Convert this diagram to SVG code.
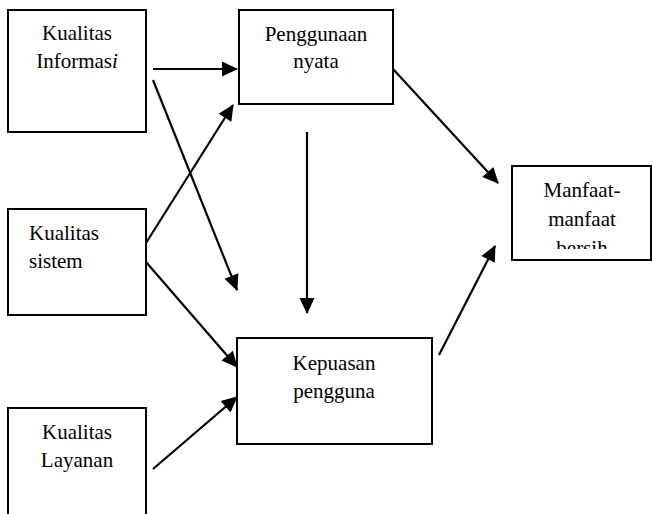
<svg xmlns="http://www.w3.org/2000/svg" width="653" height="514" viewBox="0 0 653 514">
<style>
.box{fill:#fff;stroke:#000;stroke-width:2}
text{font-family:'Times New Roman',Times,'Liberation Serif',Tinos,'Nimbus Roman','Noto Serif','DejaVu Serif',serif;font-size:21px;fill:#000}
.c{text-anchor:middle}
.ln{stroke:#000;stroke-width:2.2;fill:none;marker-end:url(#ah)}
</style>
<defs>
<marker id="ah" markerUnits="userSpaceOnUse" markerWidth="16" markerHeight="15" refX="15" refY="7.5" orient="auto" overflow="visible">
<path d="M0,0 L16,7.5 L0,15 z" fill="#000"/>
</marker>
<clipPath id="mclip"><rect x="512" y="166" width="140" height="83"/></clipPath>
</defs>
<rect width="653" height="514" fill="#fff"/>
<g id="kualitas-informasi">
<rect class="box" x="8" y="10" width="138" height="122"/>
<text class="c" x="77" y="40">Kualitas</text>
<text class="c" x="77" y="68">Informas<tspan font-style="italic">i</tspan></text>
</g>
<g id="penggunaan-nyata">
<rect class="box" x="239" y="10" width="154" height="94"/>
<text class="c" x="316" y="41">Penggunaan</text>
<text class="c" x="316" y="68">nyata</text>
</g>
<g id="kualitas-sistem">
<rect class="box" x="8" y="209" width="138" height="106"/>
<text x="29" y="240">Kualitas</text>
<text x="29" y="268">sistem</text>
</g>
<g id="kualitas-layanan">
<rect class="box" x="8" y="408" width="138" height="120"/>
<text class="c" x="77" y="439">Kualitas</text>
<text class="c" x="77" y="467">Layanan</text>
</g>
<g id="kepuasan-pengguna">
<rect class="box" x="237" y="338" width="195" height="106"/>
<text class="c" x="334" y="370">Kepuasan</text>
<text class="c" x="334" y="398">pengguna</text>
</g>
<g id="manfaat-bersih">
<rect class="box" x="512" y="166" width="139" height="94"/>
<g clip-path="url(#mclip)">
<text class="c" x="582" y="197">Manfaat-</text>
<text class="c" x="582" y="226">manfaat</text>
<text class="c" x="582" y="255">bersih</text>
</g>
</g>
<g id="connectors">
<line class="ln" x1="153" y1="69" x2="237" y2="69"/>
<line class="ln" x1="153" y1="80" x2="237" y2="290"/>
<line class="ln" x1="146" y1="243" x2="233" y2="105"/>
<line class="ln" x1="146" y1="262" x2="237" y2="367"/>
<line class="ln" x1="153" y1="469" x2="237" y2="397"/>
<line class="ln" x1="307" y1="132" x2="307" y2="313"/>
<line class="ln" x1="393" y1="69" x2="498" y2="183"/>
<line class="ln" x1="439" y1="355" x2="495" y2="246"/>
</g>
</svg>
